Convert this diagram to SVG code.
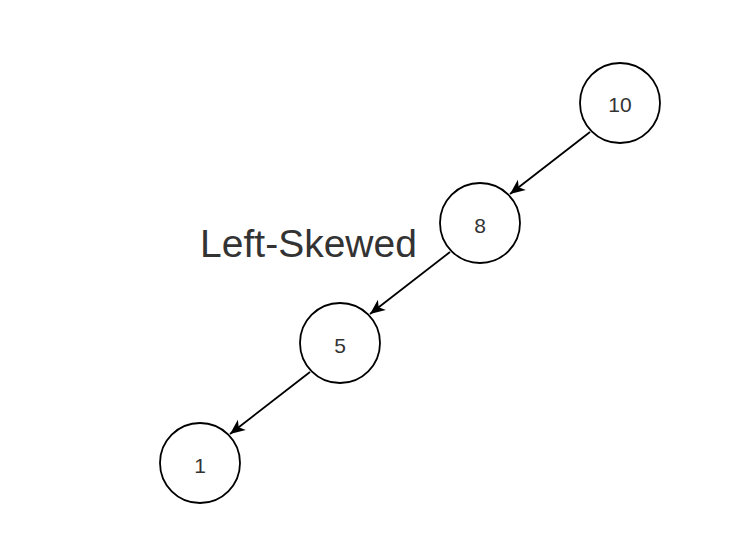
<svg xmlns="http://www.w3.org/2000/svg" width="740" height="542" viewBox="0 0 740 542">
<style>
.node circle{fill:#fff;stroke:#000;stroke-width:1.8}
.node text{font-family:"Liberation Sans",Arial,sans-serif;font-size:21px;fill:#333;text-anchor:middle}
.edge{stroke:#000;stroke-width:1.8;fill:none;marker-end:url(#arr)}
.label{font-family:"Liberation Sans",Arial,sans-serif;font-size:39px;fill:#333;text-anchor:middle}
</style>
<defs>
<marker id="arr" markerUnits="userSpaceOnUse" markerWidth="20" markerHeight="20" viewBox="-16 -8 20 16" refX="0" refY="0" orient="auto">
<path d="M0,0 L-15,-6.5 L-11,0 L-15,6.5 Z" fill="#000"/>
</marker>
</defs>
<rect width="740" height="542" fill="#fff"/>
<g id="connectors">
<line class="edge" x1="590" y1="132" x2="510" y2="194"/>
<line class="edge" x1="450" y1="252" x2="370" y2="314"/>
<line class="edge" x1="310" y1="372" x2="230" y2="434"/>
</g>
<g id="node10" class="node"><circle cx="620" cy="103" r="40"/><text x="620" y="112">10</text></g>
<g id="node8" class="node"><circle cx="480" cy="223" r="40"/><text x="480" y="233">8</text></g>
<g id="node5" class="node"><circle cx="340" cy="343" r="40"/><text x="340" y="353">5</text></g>
<g id="node1" class="node"><circle cx="200" cy="463" r="40"/><text x="200" y="473">1</text></g>
<text id="title" class="label" x="308.5" y="257">Left-Skewed</text>
</svg>
